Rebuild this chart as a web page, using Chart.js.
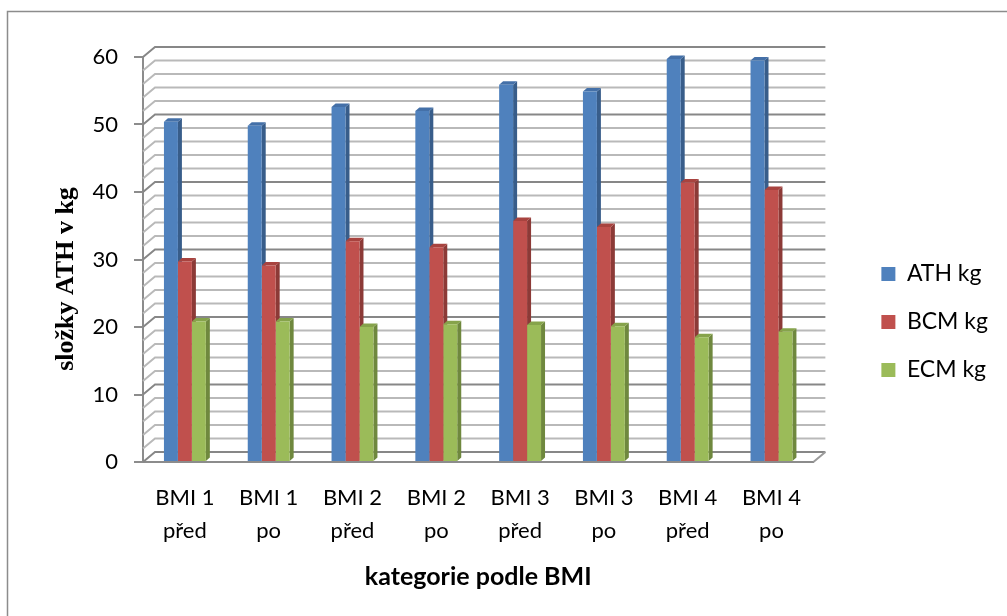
<!DOCTYPE html>
<html>
<head>
<meta charset="utf-8">
<script src="https://cdn.jsdelivr.net/npm/chart.js@4.4.1/dist/chart.umd.min.js"></script>
<style>
  html, body { margin: 0; padding: 0; background: #ffffff; }
  canvas { display: block; }
</style>
</head>
<body>
<canvas id="chart" width="1007" height="616"></canvas>
<script>
// Categories (two-line labels) and series values in kg
const categories = [
  ['BMI 1', 'před'], ['BMI 1', 'po'],
  ['BMI 2', 'před'], ['BMI 2', 'po'],
  ['BMI 3', 'před'], ['BMI 3', 'po'],
  ['BMI 4', 'před'], ['BMI 4', 'po']
];
const athKg = [50.4, 49.8, 52.6, 52.0, 55.9, 54.9, 59.7, 59.5];
const bcmKg = [29.7, 29.1, 32.7, 31.8, 35.7, 34.8, 41.4, 40.3];
const ecmKg = [20.8, 20.8, 20.0, 20.4, 20.3, 20.1, 18.5, 19.3];
const seriesNames = ['ATH kg', 'BCM kg', 'ECM kg'];
const yMin = 0;
const yMax = 60;
const yStep = 10;
const wallGridStep = 2;

const frontColors = ['#4F81BD', '#C0504D', '#9BBB59'];
const sideColors  = ['#385D8A', '#8C3A37', '#6F883E'];
const topColors   = ['#4470A8', '#A8433F', '#86A34B'];

// Offset of the back wall relative to the front plane, and of a bar's back faces
const WALL = { dx: 12, dy: 10 };
const BAR = { dx: 4, dy: 3.5 };

const pseudo3d = {
  id: 'pseudo3d',
  beforeDraw(chart) {
    const ctx = chart.ctx;
    ctx.save();
    ctx.strokeStyle = '#8c8c8c';
    ctx.lineWidth = 1.5;
    ctx.strokeRect(7.5, 11.5, 1200, 800);
    ctx.restore();
  },
  beforeDatasetsDraw(chart) {
    const { ctx, chartArea: a, scales: { x, y } } = chart;
    ctx.save();
    // side wall diagonals and back wall grid
    for (let v = yMin; v <= yMax; v += wallGridStep) {
      const py = y.getPixelForValue(v);
      const major = v % yStep === 0;
      ctx.strokeStyle = major ? '#878787' : '#b9b9b9';
      ctx.lineWidth = 2;
      ctx.beginPath();
      ctx.moveTo(a.left, py);
      ctx.lineTo(a.left + WALL.dx, py - WALL.dy);
      ctx.lineTo(a.right + WALL.dx, py - WALL.dy);
      ctx.stroke();
    }
    // floor right edge
    const y0 = y.getPixelForValue(yMin);
    ctx.strokeStyle = '#9a9a9a';
    ctx.lineWidth = 2;
    ctx.beginPath();
    ctx.moveTo(a.right, y0);
    ctx.lineTo(a.right + WALL.dx, y0 - WALL.dy);
    ctx.stroke();

    // side and top faces of each column, drawn behind the front faces
    const metas = [0, 1, 2].map(i => chart.getDatasetMeta(i));
    for (let i = 0; i < categories.length; i++) {
      metas.forEach((meta, d) => {
        const el = meta.data[i];
        if (!el) return;
        const p = el.getProps(['x', 'y', 'base', 'width'], true);
        const l = p.x - p.width / 2;
        const r = p.x + p.width / 2;
        ctx.fillStyle = sideColors[d];
        ctx.beginPath();
        ctx.moveTo(r, p.y);
        ctx.lineTo(r + BAR.dx, p.y - BAR.dy);
        ctx.lineTo(r + BAR.dx, p.base - BAR.dy);
        ctx.lineTo(r, p.base);
        ctx.closePath();
        ctx.fill();
        ctx.fillStyle = topColors[d];
        ctx.beginPath();
        ctx.moveTo(l, p.y);
        ctx.lineTo(r, p.y);
        ctx.lineTo(r + BAR.dx, p.y - BAR.dy);
        ctx.lineTo(l + BAR.dx, p.y - BAR.dy);
        ctx.closePath();
        ctx.fill();
      });
    }
    ctx.restore();
  }
};

const seriesValues = [athKg, bcmKg, ecmKg];

new Chart(document.getElementById('chart'), {
  type: 'bar',
  data: {
    labels: categories,
    datasets: seriesNames.map((name, i) => ({
      label: name,
      data: seriesValues[i],
      backgroundColor: frontColors[i],
      borderWidth: 0,
      categoryPercentage: 0.5,
      barPercentage: 1.0
    }))
  },
  options: {
    responsive: false,
    animation: false,
    devicePixelRatio: 1,
    layout: { padding: { left: 0, top: 57, right: 9, bottom: 29 } },
    plugins: {
      legend: {
        position: 'right',
        labels: {
          color: '#000000',
          font: { family: 'Lato', size: 23 },
          boxWidth: 14,
          boxHeight: 14,
          padding: 25
        }
      },
      tooltip: { enabled: false }
    },
    scales: {
      x: {
        grid: { display: false, drawTicks: false },
        border: { display: true, color: '#8c8c8c', width: 2 },
        ticks: {
          color: '#000000',
          font: { family: 'Lato', size: 22, lineHeight: 1.5 },
          padding: 19,
          maxRotation: 0,
          autoSkip: false
        },
        title: {
          display: true,
          text: 'kategorie podle BMI',
          color: '#000000',
          font: { family: 'Lato', size: 25, weight: 'bold', lineHeight: 0.8 },
          padding: 0
        },
        afterFit(scale) { scale.height = 125; }
      },
      y: {
        min: yMin,
        max: yMax,
        ticks: {
          stepSize: yStep,
          color: '#000000',
          font: { family: 'Lato', size: 22 },
          padding: 16
        },
        grid: { drawOnChartArea: false, drawTicks: true, tickLength: 9, color: '#8c8c8c', lineWidth: 2 },
        border: { display: true, color: '#8c8c8c', width: 2 },
        title: {
          display: true,
          text: 'složky ATH v kg\u00A0\u00A0\u00A0\u00A0\u00A0\u00A0',
          color: '#000000',
          font: { family: 'Liberation Serif', size: 26, weight: 'bold', lineHeight: 1.2 },
          padding: { top: 51, bottom: 0 }
        },
        afterFit(scale) { scale.width = 143; }
      },
      depth: {
        type: 'linear',
        position: 'right',
        display: true,
        grid: { display: false, drawTicks: false },
        border: { display: false },
        ticks: { display: false },
        afterFit(scale) { scale.width = 43; }
      }
    }
  },
  plugins: [pseudo3d]
});
</script>
</body>
</html>
